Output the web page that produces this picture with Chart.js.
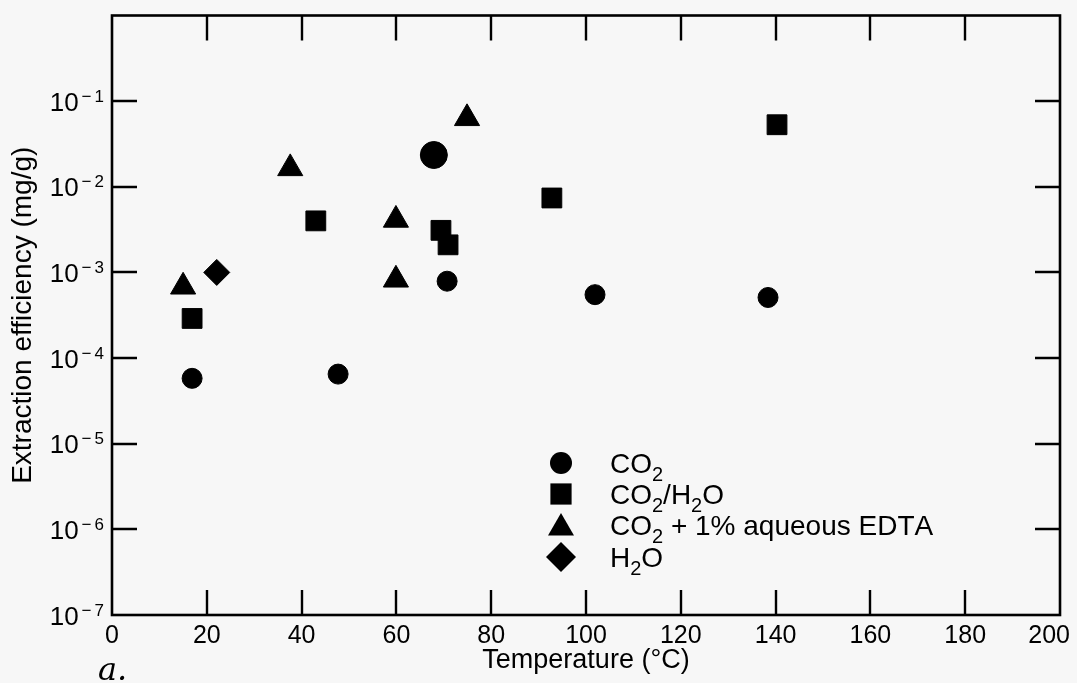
<!DOCTYPE html>
<html>
<head>
<meta charset="utf-8">
<script src="https://cdn.jsdelivr.net/npm/chart.js@4.4.1/dist/chart.umd.min.js"></script>
<style>
  html, body { margin: 0; padding: 0; background: #f7f7f7; }
  #wrap { width: 1077px; height: 683px; position: relative; }
  canvas { display: block; }
</style>
</head>
<body>
<div id="wrap"><canvas id="c" width="1077" height="683"></canvas></div>
<script>
// ---- Data ----
const seriesNames = ['CO₂', 'CO₂/H₂O', 'CO₂ + 1% aqueous EDTA', 'H₂O'];

const co2Temp = [16.9, 47.7, 67.9, 70.7, 101.9, 138.4];
const co2Eff  = [5.8e-5, 6.5e-5, 2.35e-2, 7.9e-4, 5.5e-4, 5.1e-4];

const co2h2oTemp = [16.9, 43.0, 69.4, 70.9, 92.8, 140.3];
const co2h2oEff  = [2.9e-4, 4.0e-3, 3.1e-3, 2.1e-3, 7.4e-3, 5.3e-2];

const edtaTemp = [15.0, 37.6, 59.9, 59.9, 74.9];
const edtaEff  = [6.8e-4, 1.64e-2, 4.1e-3, 8.2e-4, 6.3e-2];

const h2oTemp = [22.1];
const h2oEff  = [1.0e-3];

const xTickValues = [0, 20, 40, 60, 80, 100, 120, 140, 160, 180, 200];
const yTickExponents = [-7, -6, -5, -4, -3, -2, -1];
const yTickLabels = ['10⁻⁷', '10⁻⁶', '10⁻⁵', '10⁻⁴', '10⁻³', '10⁻²', '10⁻¹'];

const xTitle = 'Temperature (°C)';
const yTitle = 'Extraction efficiency (mg/g)';
const panelNote = 'a.';

// ---- helpers ----
const FONT = '"Liberation Sans", Arial, Helvetica, sans-serif';
const toPts = (xs, ys) => xs.map((x, i) => ({ x: x, y: ys[i] }));
const SUP = { '⁰':'0','¹':'1','²':'2','³':'3','⁴':'4','⁵':'5','⁶':'6','⁷':'7','⁸':'8','⁹':'9','⁻':'−' };
const SUB = { '₀':'0','₁':'1','₂':'2','₃':'3','₄':'4','₅':'5','₆':'6','₇':'7','₈':'8','₉':'9' };

function drawMarker(ctx, style, x, y, r) {
  ctx.beginPath();
  if (style === 'circle') {
    ctx.arc(x, y, r, 0, Math.PI * 2);
  } else if (style === 'rect') {
    const s = Math.SQRT1_2 * r;
    ctx.rect(x - s, y - s, 2 * s, 2 * s);
  } else if (style === 'triangle') {
    let a = 0;
    ctx.moveTo(x + Math.sin(a) * r, y - Math.cos(a) * r);
    a += 2 * Math.PI / 3;
    ctx.lineTo(x + Math.sin(a) * r, y - Math.cos(a) * r);
    a += 2 * Math.PI / 3;
    ctx.lineTo(x + Math.sin(a) * r, y - Math.cos(a) * r);
    ctx.closePath();
  } else if (style === 'rectRot') {
    ctx.moveTo(x, y - r); ctx.lineTo(x + r, y); ctx.lineTo(x, y + r); ctx.lineTo(x - r, y);
    ctx.closePath();
  }
  ctx.fill();
}

// draws text where subscript digits are drawn small and lowered
function drawRich(ctx, text, x, y, size) {
  let cx = x;
  for (const ch of text) {
    if (SUB[ch]) {
      ctx.font = Math.round(size * 0.72) + 'px ' + FONT;
      ctx.fillText(SUB[ch], cx, y + size * 0.3);
      cx += ctx.measureText(SUB[ch]).width;
    } else {
      ctx.font = size + 'px ' + FONT;
      ctx.fillText(ch, cx, y);
      cx += ctx.measureText(ch).width;
    }
  }
}

const framePlugin = {
  id: 'frame',
  afterDraw(chart) {
    const { ctx, chartArea: a, scales: { x, y } } = chart;
    const W = chart.width;
    ctx.save();
    ctx.strokeStyle = '#000';
    ctx.fillStyle = '#000';
    ctx.lineWidth = 2.6;
    ctx.lineCap = 'butt';
    ctx.strokeRect(a.left, a.top, a.right - a.left, a.bottom - a.top);
    const tl = 25;
    ctx.lineWidth = 2.4;
    x.ticks.forEach(t => {
      if (t.value <= x.min || t.value >= x.max) return;
      const px = Math.round(x.getPixelForValue(t.value));
      ctx.beginPath();
      ctx.moveTo(px, a.bottom); ctx.lineTo(px, a.bottom - tl);
      ctx.moveTo(px, a.top); ctx.lineTo(px, a.top + tl);
      ctx.stroke();
    });
    y.ticks.forEach(t => {
      const py = Math.round(y.getPixelForValue(t.value));
      if (py >= a.bottom - 1 || py <= a.top + 1) return;
      ctx.beginPath();
      ctx.moveTo(a.left, py); ctx.lineTo(a.left + tl, py);
      ctx.moveTo(a.right, py); ctx.lineTo(a.right - tl, py);
      ctx.stroke();
    });

    // x tick labels (kept inside the canvas at the right edge)
    ctx.font = '25px ' + FONT;
    ctx.textAlign = 'center';
    ctx.textBaseline = 'alphabetic';
    x.ticks.forEach(t => {
      const label = String(t.label);
      const w = ctx.measureText(label).width;
      let px = x.getPixelForValue(t.value);
      px = Math.min(px, W - 7 - w / 2);
      ctx.fillText(label, px, a.bottom + 28);
    });

    // y tick labels: base "10" with raised exponent
    y.ticks.forEach(t => {
      const label = t.label || '';
      if (!label) return;
      const py = y.getPixelForValue(t.value);
      let base = '', exp = '';
      for (const ch of label) { if (SUP[ch]) exp += SUP[ch]; else base += ch; }
      ctx.textAlign = 'right';
      ctx.textBaseline = 'alphabetic';
      const right = a.left - 8;
      ctx.font = '17px ' + FONT;
      const digit = exp.slice(1);
      ctx.fillText(digit, right, py + 0.5);
      const dw = ctx.measureText(digit).width;
      ctx.fillText(exp.slice(0, 1), right - dw - 3, py + 0.5);
      const mw = ctx.measureText(exp.slice(0, 1)).width;
      ctx.font = '26px ' + FONT;
      ctx.fillText(base, right - dw - 3 - mw - 3, py + 9.5);
    });

    // legend
    const lx = 561, tx = 610;
    const rows = [463, 494, 525, 557];
    const sizes = { circle: 11, rect: 15, triangle: 15, rectRot: 15 };
    ctx.textAlign = 'left';
    ctx.textBaseline = 'alphabetic';
    chart.data.datasets.forEach((ds, i) => {
      const yy = rows[i];
      ctx.fillStyle = '#000';
      drawMarker(ctx, ds.pointStyle, lx, ds.pointStyle === 'triangle' ? yy + 3 : yy, sizes[ds.pointStyle]);
      drawRich(ctx, ds.label, tx, yy + 10, 28);
    });

    // handwritten panel note
    ctx.font = 'italic 32px "DejaVu Serif", serif';
    ctx.textAlign = 'left';
    ctx.fillText(panelNote, 98, 680);
    ctx.restore();
  }
};

new Chart(document.getElementById('c'), {
  type: 'scatter',
  data: {
    datasets: [
      { label: seriesNames[0], data: toPts(co2Temp, co2Eff), pointStyle: 'circle',
        pointRadius: [10, 10, 13.5, 10, 10, 10], backgroundColor: '#000', borderColor: '#000', borderWidth: 1 },
      { label: seriesNames[1], data: toPts(co2h2oTemp, co2h2oEff), pointStyle: 'rect',
        pointRadius: 14, backgroundColor: '#000', borderColor: '#000', borderWidth: 1 },
      { label: seriesNames[2], data: toPts(edtaTemp, edtaEff), pointStyle: 'triangle',
        pointRadius: 14.5, backgroundColor: '#000', borderColor: '#000', borderWidth: 1 },
      { label: seriesNames[3], data: toPts(h2oTemp, h2oEff), pointStyle: 'rectRot',
        pointRadius: 13, backgroundColor: '#000', borderColor: '#000', borderWidth: 1 }
    ]
  },
  options: {
    responsive: false,
    animation: false,
    devicePixelRatio: 1,
    events: [],
    layout: { padding: { left: 0, top: 12, right: 17, bottom: 0 } },
    plugins: { legend: { display: false }, tooltip: { enabled: false } },
    scales: {
      x: {
        type: 'linear', min: 0, max: 200,
        afterBuildTicks: s => { s.ticks = xTickValues.map(v => ({ value: v })); },
        afterFit: s => { s.height = 68; s.paddingLeft = 0; s.paddingRight = 0; },
        grid: { display: false, drawTicks: false },
        border: { display: false },
        ticks: { color: 'rgba(0,0,0,0)', font: { family: FONT, size: 25 }, padding: 6, maxRotation: 0, autoSkip: false },
        title: { display: true, text: xTitle, color: '#000', font: { family: FONT, size: 27 }, padding: { top: 0, bottom: 6 } }
      },
      y: {
        type: 'logarithmic', min: 1e-7, max: 1,
        afterBuildTicks: s => { s.ticks = yTickExponents.map(e => ({ value: Math.pow(10, e) })); },
        afterFit: s => { s.width = 112; s.paddingTop = 0; s.paddingBottom = 0; },
        grid: { display: false, drawTicks: false },
        border: { display: false },
        ticks: {
          display: true,
          color: 'rgba(0,0,0,0)',
          font: { family: FONT, size: 1 },
          callback: function (v) {
            const e = Math.round(Math.log10(v));
            const i = yTickExponents.indexOf(e);
            return i >= 0 ? yTickLabels[i] : '';
          }
        },
        title: { display: true, text: yTitle, color: '#000', font: { family: FONT, size: 28 }, padding: { top: 6, bottom: 0 } }
      }
    }
  },
  plugins: [framePlugin]
});
</script>
</body>
</html>
